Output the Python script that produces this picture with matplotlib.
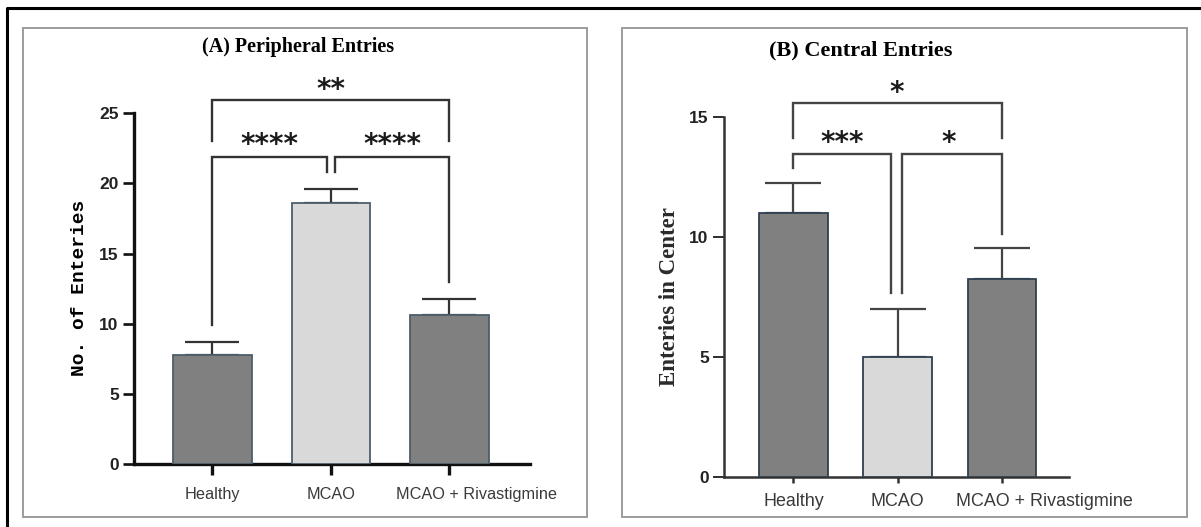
import matplotlib
matplotlib.use("Agg")
import matplotlib.pyplot as plt
import matplotlib.transforms as mtransforms
from matplotlib.patches import Rectangle
from matplotlib.lines import Line2D

groups = ["Healthy", "MCAO", "MCAO + Rivastigmine"]

periph_mean = [7.8, 18.6, 10.6]
periph_err = [0.9, 1.0, 1.15]
central_mean = [11.0, 5.0, 8.25]
central_err = [1.25, 2.0, 1.3]

# brackets: (x1, x2, top, left leg end, right leg end)
periph_brackets = [(0, 2, 25.9, 23.0, 23.0),
                   (0, 0.964, 21.9, 9.9, 20.8),
                   (1.036, 2, 21.9, 20.8, 13.0)]
periph_stars = [("**", 1.0, 27.1), ("****", 0.482, 23.2), ("****", 1.518, 23.2)]

central_brackets = [(0, 2, 15.6, 14.15, 14.15),
                    (0, 0.94, 13.45, 12.9, 7.65),
                    (1.04, 2, 13.45, 7.65, 10.15)]
central_stars = [("*", 0.99, 16.3), ("***", 0.47, 14.2), ("*", 1.49, 14.2)]

W, H = 1201, 527
fig = plt.figure(figsize=(W / 100, H / 100), dpi=100)


def rect(x0, y0, x1, y1):
    # pixel box -> figure fraction
    return [x0 / W, 1 - y1 / H, (x1 - x0) / W, (y1 - y0) / H]


# outer frame (cropped screenshot: only top and left visible)
fig.add_artist(Line2D([7 / W, 7 / W, 1], [0, 1 - 8 / H, 1 - 8 / H],
                      transform=fig.transFigure, color="black", lw=2.2))
# panel boxes
for x0, x1 in [(23, 587), (622, 1187)]:
    fig.add_artist(Rectangle((x0 / W, 1 - 517 / H), (x1 - x0) / W, (517 - 28) / H,
                             transform=fig.transFigure, fill=False,
                             edgecolor="#9c9c9c", lw=1.4))

fills = ["#808080", "#d9d9d9", "#808080"]


def panel(ax, mean, err, brackets, stars, ymax, yticks, spine_c, spine_w,
          tick_len_x, tick_pad_x, xfs, cap, line_c, edge_c, label_shift):
    x = range(len(groups))
    ax.bar(x, mean, width=0.66, color=fills, edgecolor=edge_c, linewidth=1.3, zorder=3)
    ax.errorbar(x, mean, yerr=[[0] * len(err), err], fmt="none", ecolor=line_c,
                elinewidth=1.6, capsize=cap, capthick=1.6, zorder=2)
    for x1, x2, top, l1, l2 in brackets:
        ax.plot([x1, x1, x2, x2], [l1, top, top, l2], color=line_c, lw=1.7,
                clip_on=False, solid_joinstyle="miter", zorder=4)
    for s, sx, sy in stars:
        ax.text(sx, sy, s, ha="center", va="center", fontsize=20, fontweight="bold",
                color="#1a1a1a", clip_on=False,
                transform=ax.transData + mtransforms.ScaledTranslation(0, -5 / 72, fig.dpi_scale_trans))
    ax.set_ylim(0, ymax)
    ax.set_yticks(yticks)
    ax.spines[["top", "right"]].set_visible(False)
    for sp in ["left", "bottom"]:
        ax.spines[sp].set_color(spine_c)
        ax.spines[sp].set_linewidth(spine_w)
    ax.set_xticks(list(x))
    ax.set_xticklabels(groups, fontsize=xfs, family="Liberation Sans", color="#3a3a3a")
    ax.tick_params(axis="x", length=tick_len_x, width=spine_w, color=spine_c, pad=tick_pad_x)
    ax.tick_params(axis="y", length=8, width=spine_w * 0.8, color=spine_c, pad=3,
                   labelsize=12.5, labelcolor="#222222")
    for lab in ax.get_yticklabels():
        lab.set_fontweight("bold")
        lab.set_family("Liberation Sans")
    lbl = ax.get_xticklabels()[2]
    lbl.set_transform(lbl.get_transform() +
                      mtransforms.ScaledTranslation(label_shift / 100, 0, fig.dpi_scale_trans))


axA = fig.add_axes(rect(134, 113, 530, 464.3))
axA.set_xlim(-0.662, 2.68)
panel(axA, periph_mean, periph_err, periph_brackets, periph_stars, 25, [0, 5, 10, 15, 20, 25],
      "#111111", 2.4, 8, 8, 11.7, 19.5, "#333333", "#4d5e6a", 27)

axB = fig.add_axes(rect(724, 117.3, 1069, 476.7))
axB.set_xlim(-0.666, 2.642)
panel(axB, central_mean, central_err, central_brackets, central_stars, 15, [0, 5, 10, 15],
      "#333333", 1.8, 4, 8, 12.9, 20, "#444444", "#2f4050", 42)

fig.text(298 / W, 1 - 47 / H, "(A) Peripheral Entries", ha="center", va="center",
         family="Liberation Serif", fontweight="bold", fontsize=14.5)
fig.text(861 / W, 1 - 50 / H, "(B) Central Entries", ha="center", va="center",
         family="Liberation Serif", fontweight="bold", fontsize=16)
fig.text(80 / W, 1 - 288 / H, "No. of Enteries", rotation=90, ha="center", va="center",
         family="Liberation Mono", fontweight="bold", fontsize=14)
fig.text(669 / W, 1 - 297 / H, "Enteries in Center", rotation=90, ha="center", va="center",
         family="Liberation Serif", fontweight="bold", fontsize=16.5, color="#2a2a2a")

fig.savefig("out.png", dpi=100, facecolor="white")
